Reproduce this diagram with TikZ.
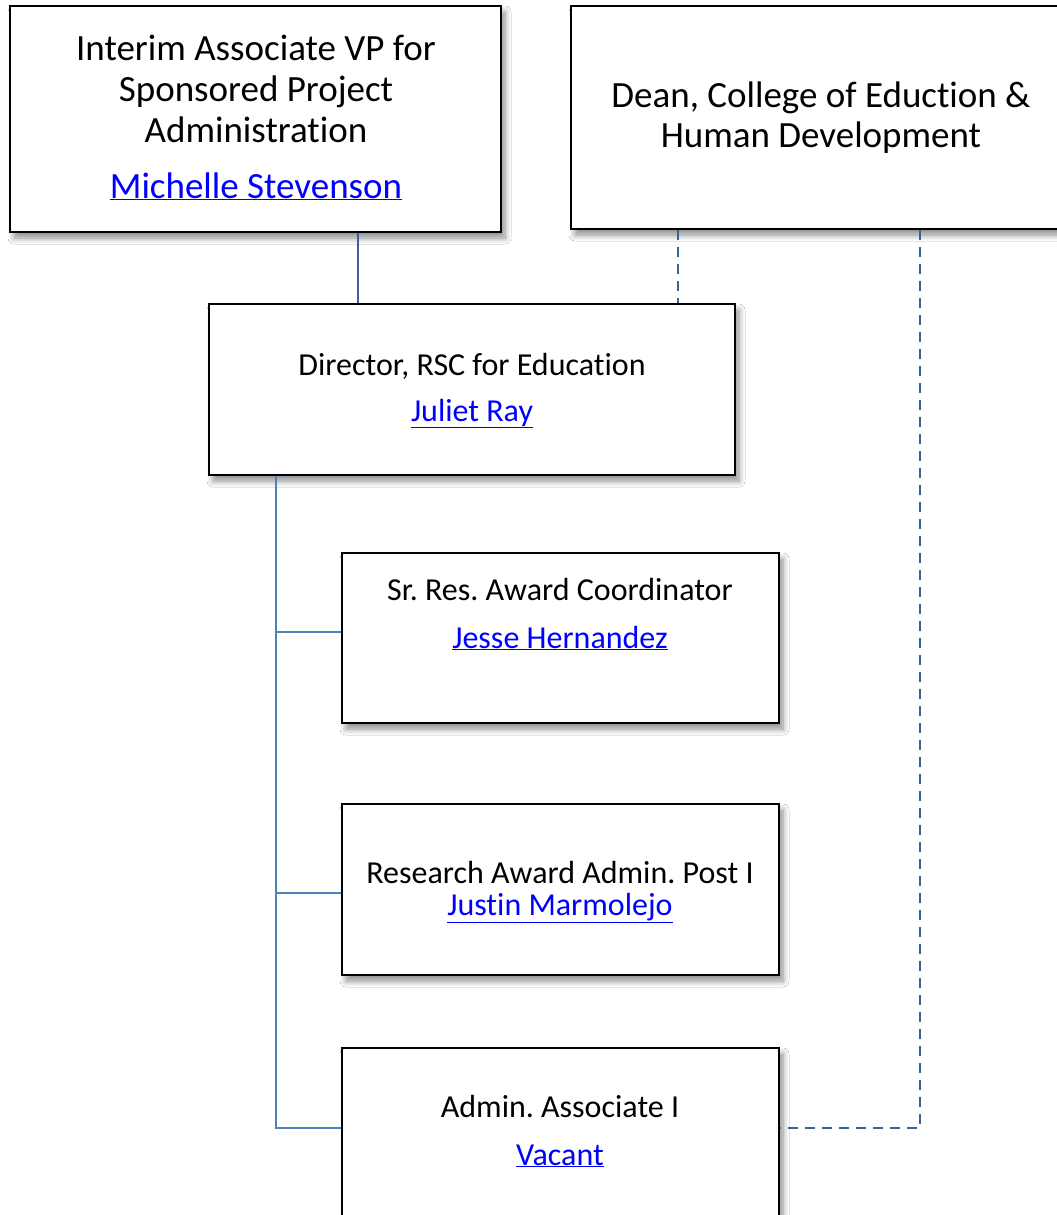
\documentclass[tikz,border=0pt]{standalone}
\usepackage{fontspec}
\setmainfont[Ligatures={NoCommon}]{Carlito}
\usetikzlibrary{shadows.blur}
\definecolor{darkconn}{HTML}{3A6198}
\definecolor{lightconn}{HTML}{4F81BD}
\definecolor{linkblue}{HTML}{0000FF}
\tikzset{
  orgbox/.style={draw=black, line width=2pt, fill=white, inner sep=0pt,
    blur shadow={shadow xshift=4pt, shadow yshift=-6pt, shadow blur steps=8, shadow blur radius=6pt, shadow opacity=45}},
  bigtxt/.style={anchor=base, inner sep=0pt, font=\fontsize{37}{41}\selectfont},
  smalltxt/.style={anchor=base, inner sep=0pt, font=\fontsize{32}{35}\selectfont},
  linktxt/.style={text=linkblue},
  solidconn/.style={draw=darkconn, line width=2.4pt},
  dashconn/.style={draw=darkconn, line width=2.4pt, dash pattern=on 10pt off 7pt},
  treeconn/.style={draw=lightconn, line width=2.8pt}
}
\newcommand{\lnk}[1]{\underline{#1}}
\begin{document}
\frenchspacing
\begin{tikzpicture}[x=1pt,y=-1pt]
\useasboundingbox (0,0) rectangle (1057,1215);
\clip (0,0) rectangle (1057,1215);
\fill[white] (0,0) rectangle (1057,1215);

% boxes
\node[orgbox, minimum width=491pt, minimum height=226pt] (A) at (255.5,119) {};
\node[orgbox, minimum width=499pt, minimum height=223pt] (B) at (820.5,117.5) {};
\node[orgbox, minimum width=526pt, minimum height=171pt] (C) at (472,389.5) {};
\node[orgbox, minimum width=437pt, minimum height=170pt] (D) at (560.5,638) {};
\node[orgbox, minimum width=437pt, minimum height=171pt] (E) at (560.5,889.5) {};
\node[orgbox, minimum width=437pt, minimum height=182pt] (F) at (560.5,1139) {};

% texts
\node[bigtxt] (a1) at (256,61) {Interim Associate VP for};
\node[bigtxt] (a2) at (256,101) {Sponsored Project};
\node[bigtxt] (a3) at (256,142) {Administration};
\node[bigtxt, linktxt] (a4) at (256,198) {\lnk{Michelle Stevenson}};

\node[bigtxt] (b1) at (821,107) {Dean, College of Eduction \&};
\node[bigtxt] (b2) at (821,147) {Human Development};

\node[smalltxt] (c1) at (472,375) {Director, RSC for Education};
\node[smalltxt, linktxt] (c2) at (472,421) {\lnk{Juliet Ray}};

\node[smalltxt] (d1) at (560,600) {Sr. Res. Award Coordinator};
\node[smalltxt, linktxt] (d2) at (560,648) {\lnk{Jesse Hernandez}};

\node[smalltxt] (e1) at (560,883) {Research Award Admin. Post I};
\node[smalltxt, linktxt] (e2) at (560,915) {\lnk{Justin Marmolejo}};

\node[smalltxt] (f1) at (560,1117) {Admin. Associate I};
\node[smalltxt, linktxt] (f2) at (560,1165) {\lnk{Vacant}};

% helper positions
\coordinate (xac) at (358,0);
\coordinate (xbc) at (678,0);
\coordinate (xbf) at (920,0);
\coordinate (xtr) at (276,0);
\coordinate (ytf) at (0,1128);
\coordinate (ytd) at (0,632);
\coordinate (yte) at (0,893);

% connectors
\draw[solidconn] (A.south -| xac) -- (C.north -| xac);
\draw[dashconn] (B.south -| xbc) -- (C.north -| xbc);
\draw[dashconn] (B.south -| xbf) -- (xbf |- ytf) -- (F.east |- ytf);

\draw[treeconn] (C.south -| xtr) -- (xtr |- ytf) -- (F.west |- ytf);
\draw[treeconn] (xtr |- ytd) -- (D.west |- ytd);
\draw[treeconn] (xtr |- yte) -- (E.west |- yte);
\end{tikzpicture}
\end{document}
